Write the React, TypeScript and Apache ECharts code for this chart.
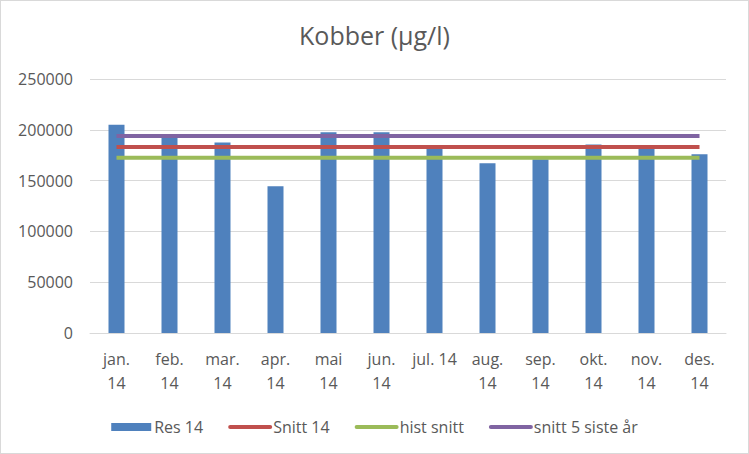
import React, { useEffect, useRef } from "react";
import * as echarts from "echarts";

const categories = [
  "jan.\n14", "feb.\n14", "mar.\n14", "apr.\n14", "mai\n14", "jun.\n14",
  "jul. 14", "aug.\n14", "sep.\n14", "okt.\n14", "nov.\n14", "des.\n14",
];
const res14 = [205000, 193500, 187500, 144500, 197500, 197500, 181000, 167000, 171000, 185500, 181500, 176000];
const snitt14 = 183000;
const histSnitt = 172500;
const snitt5 = 194000;
const yTicks = { min: 0, max: 250000, interval: 50000 };

const FONT = "'Open Sans', 'Noto Sans', sans-serif";
const TXT = "#595959";

export default function App() {
  const ref = useRef<HTMLDivElement>(null);
  useEffect(() => {
    if (!ref.current) return;
    const chart = echarts.init(ref.current, undefined, { renderer: "svg" });
    const flat = (v: number) => categories.map(() => v);
    const lineLegend = (name: string) => ({
      name,
      itemStyle: { opacity: 0 },
      lineStyle: { width: 4, cap: "round" },
    });
    chart.setOption({
      animation: false,
      backgroundColor: "#ffffff",
      title: {
        text: "Kobber (µg/l)",
        left: "center",
        top: 16,
        textStyle: { fontFamily: FONT, fontSize: 25, fontWeight: "normal", color: TXT },
      },
      grid: { left: 89, right: 22, top: 78, bottom: 120 },
      legend: {
        top: 413,
        left: "center",
        itemWidth: 40,
        itemHeight: 8,
        itemGap: 25,
        textStyle: { fontFamily: FONT, fontSize: 16, color: TXT, padding: [0, 0, 0, -2] },
        data: [
          { name: "Res 14", icon: "rect" },
          lineLegend("Snitt 14"),
          lineLegend("hist snitt"),
          lineLegend("snitt 5 siste år"),
        ],
      },
      xAxis: {
        type: "category",
        data: categories,
        axisLine: { lineStyle: { color: "#d9d9d9", width: 1 } },
        axisTick: { show: false },
        axisLabel: {
          fontFamily: FONT,
          fontSize: 16,
          color: TXT,
          lineHeight: 24,
          margin: 14,
          interval: 0,
        },
      },
      yAxis: {
        type: "value",
        min: yTicks.min,
        max: yTicks.max,
        interval: yTicks.interval,
        axisLine: { show: false },
        axisTick: { show: false },
        splitLine: { lineStyle: { color: "#d9d9d9", width: 1 } },
        axisLabel: {
          fontFamily: FONT,
          fontSize: 16,
          color: TXT,
          margin: 17,
          formatter: (v: number) => String(v),
        },
      },
      series: [
        {
          name: "Res 14",
          type: "bar",
          data: res14,
          barWidth: 16,
          itemStyle: { color: "#4f81bd" },
        },
        {
          name: "Snitt 14",
          type: "line",
          data: flat(snitt14),
          symbol: "none",
          lineStyle: { color: "#c0504d", width: 4 },
          itemStyle: { color: "#c0504d" },
        },
        {
          name: "hist snitt",
          type: "line",
          data: flat(histSnitt),
          symbol: "none",
          lineStyle: { color: "#9bbb59", width: 4 },
          itemStyle: { color: "#9bbb59" },
        },
        {
          name: "snitt 5 siste år",
          type: "line",
          data: flat(snitt5),
          symbol: "none",
          lineStyle: { color: "#8064a2", width: 4 },
          itemStyle: { color: "#8064a2" },
        },
      ],
    });
    return () => chart.dispose();
  }, []);
  return (
    <div
      style={{
        position: "fixed",
        left: 0,
        top: 0,
        width: 749,
        height: 454,
        boxSizing: "border-box",
        border: "1px solid #d9d9d9",
        background: "#fff",
      }}
    >
      <div ref={ref} style={{ width: 747, height: 452 }} />
    </div>
  );
}
